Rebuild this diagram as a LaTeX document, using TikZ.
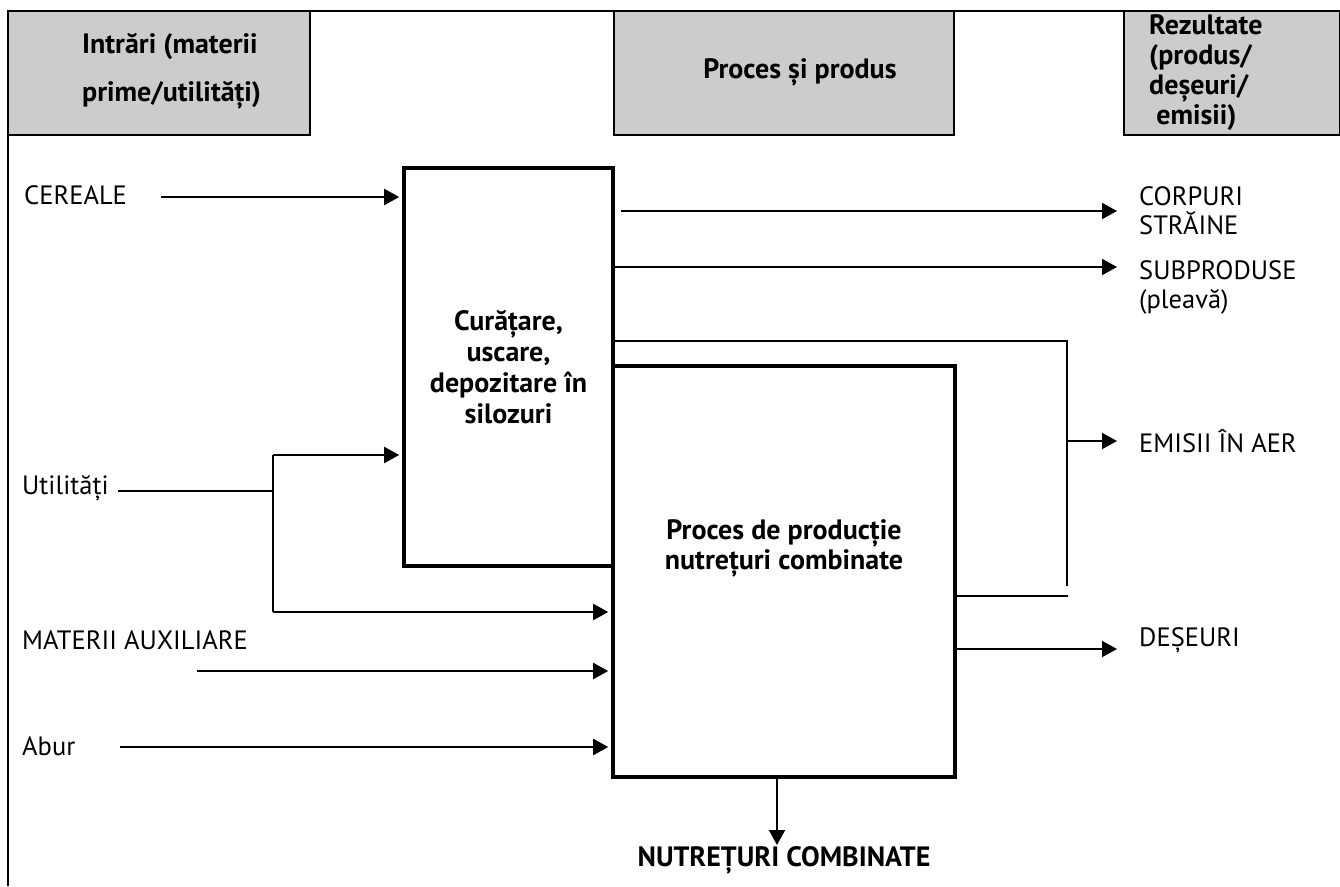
\documentclass[tikz,border=0pt]{standalone}
\usepackage{fontspec}
\setmainfont{PT Sans}
\usetikzlibrary{arrows.meta}
\newcommand{\bigfont}{\fontsize{26.5}{29}\selectfont}
\newcommand{\boldfont}[1]{\fontsize{28}{#1}\selectfont\bfseries}

\begin{document}
\begin{tikzpicture}[x=1pt, y=-1pt,
  every node/.style={font=\bigfont, inner sep=0pt},
  hdr/.style={draw, line width=2.2pt, fill=black!20, minimum height=124pt},
  procbox/.style={draw, line width=3.6pt, fill=white},
  lbl/.style={anchor=west, align=left},
  arr/.style={line width=2pt, shorten >=3pt, -{Triangle[length=15pt, width=16pt]}},
  lin/.style={line width=1.4pt}]
  \useasboundingbox (0,0) rectangle (1340,886);

  % table frame
  \draw[lin] (8,886) -- (8,11) -- (1340,11);

  % header cells
  \node[hdr, minimum width=302pt] (hdrIn) at (159,73) {};
  \node[font=\boldfont{48}, align=left, anchor=west] (hdrInTxt) at (82,71) {Intrări (materii\\prime/utilități)};
  \node[hdr, minimum width=340pt] (hdrProc) at (784,73) {};
  \node[font=\boldfont{30}] (hdrProcTxt) at (800,72) {Proces și produs};
  \node[hdr, minimum width=216pt] (hdrOut) at (1232,73) {};
  \node[font=\boldfont{30}, align=left, anchor=west] (hdrOutTxt) at (1149,73) {Rezultate\\(produs/\\deșeuri/\\\ emisii)};

  % process boxes
  \node[procbox, minimum width=209pt, minimum height=398pt, font=\boldfont{31}, align=center] (boxA) at (508.5,367) {Curățare,\\uscare,\\depozitare în\\silozuri};
  \node[procbox, minimum width=342pt, minimum height=411pt] (boxB) at (784,571.5) {};
  \node[font=\boldfont{30}, align=center] (boxBTxt) at (784,548) {Proces de producție\\nutrețuri combinate};

  % inputs
  \node[lbl] (cer) at (24,195) {CEREALE};
  \node[lbl] (utl) at (22,488) {Utilități};
  \node[lbl] (mat) at (22,640) {MATERII AUXILIARE};
  \node[lbl] (abur) at (22,746) {Abur};

  \coordinate (cerS) at (161,197);
  \coordinate (utlS) at ([xshift=9pt]utl.east |- 0,491);
  \coordinate (utlJ) at (273,491);
  \coordinate (utlT) at (273,455);
  \coordinate (utlB) at (273,612);
  \coordinate (matS) at (197,671);
  \coordinate (aburS) at (120,747);

  \draw[arr] (cerS) -- (cerS -| boxA.west);
  \draw[lin] (utlS) -- (utlJ);
  \draw[lin] (utlT) -- (utlB);
  \draw[arr] (utlT) -- (utlT -| boxA.west);
  \draw[arr] (utlB) -- (utlB -| boxB.west);
  \draw[arr] (matS) -- (matS -| boxB.west);
  \draw[arr] (aburS) -- (aburS -| boxB.west);

  % outputs
  \node[lbl] (cor) at (1139,211) {CORPURI\\STRĂINE};
  \node[lbl] (sub) at (1139,287) {SUBPRODUSE\\(pleavă)};
  \node[lbl] (emi) at (1139,441) {EMISII ÎN AER};
  \node[lbl] (des) at (1139,640) {DEȘEURI};
  \node[font=\boldfont{30}] (prod) at (784,860) {NUTREȚURI COMBINATE};

  \coordinate (corE) at (1120,211);
  \coordinate (subE) at (1120,267);
  \coordinate (emiJ) at (1067,341);
  \coordinate (emiB) at (1067,586);
  \coordinate (emiE) at (1120,441);
  \coordinate (emiL) at (1068,596);
  \coordinate (desE) at (1120,649);
  \coordinate (prodT) at (777,848);

  \draw[arr] (boxA.east |- corE) ++(6,0) -- (corE);
  \draw[arr] (boxA.east |- subE) -- (subE);
  \draw[lin] (boxA.east |- emiJ) -- (emiJ) -- (emiB);
  \draw[arr] (emiE -| emiJ) -- (emiE);
  \draw[lin] (boxB.east |- emiL) -- (emiL);
  \draw[arr] (boxB.east |- desE) -- (desE);
  \draw[arr] (prodT |- boxB.south) -- (prodT);
\end{tikzpicture}
\end{document}
